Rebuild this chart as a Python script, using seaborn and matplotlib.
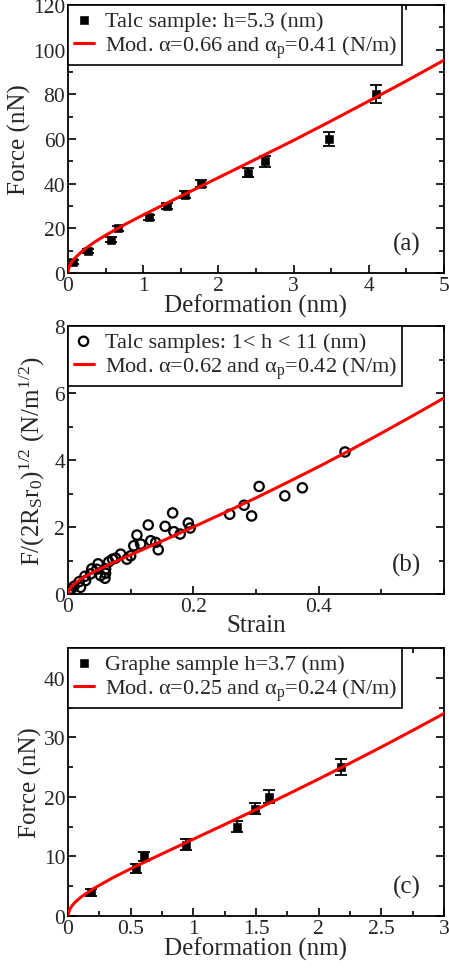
import numpy as np
import pandas as pd
import matplotlib
matplotlib.use("Agg")
import matplotlib.pyplot as plt
import seaborn as sns
from matplotlib.ticker import MultipleLocator

# --- panel (a): talc sample, h=5.3 nm ---
a_defo = [0.07, 0.26, 0.57, 0.67, 1.08, 1.32, 1.56, 1.77, 2.39, 2.62, 3.47, 4.10]
a_force = [5, 10, 15, 20, 25, 30, 35, 40, 45, 50, 60, 80]
a_err = [0.9, 0.9, 1.0, 1.0, 1.1, 1.3, 1.5, 1.5, 2.2, 2.6, 3.2, 4.1]
a_fit_x = [0, 0.005, 0.02, 0.05, 0.1, 0.2, 0.35, 0.5, 0.75, 1.0, 1.5, 2.0, 2.5, 3.0, 3.5, 4.0, 4.5, 5.0]
a_fit_y = [0, 1.5, 3.1, 4.9, 7.0, 10.1, 13.8, 16.9, 21.6, 26.0, 34.4, 42.7, 51.0, 59.4, 68.1, 77.0, 86.0, 95.3]

# --- panel (b): talc samples 1 < h < 11 nm ---
b_strain = [0.442, 0.305, 0.374, 0.346, 0.281, 0.258, 0.293, 0.195, 0.167, 0.128,
            0.155, 0.192, 0.179, 0.169, 0.110, 0.144, 0.132, 0.140, 0.105, 0.116,
            0.100, 0.084, 0.071, 0.065, 0.060, 0.059, 0.048, 0.046, 0.038, 0.036,
            0.027, 0.028, 0.020, 0.018, 0.0095, 0.004, 0.003, 0.052, 0.060, 0.076, 0.094]
b_force = [4.24, 3.21, 3.17, 2.93, 2.65, 2.38, 2.33, 1.97, 2.42, 2.06,
           2.02, 2.12, 1.79, 1.86, 1.76, 1.32, 1.59, 1.54, 1.44, 1.49,
           1.14, 1.19, 1.04, 0.96, 0.75, 0.47, 0.90, 0.74, 0.75, 0.60,
           0.53, 0.40, 0.20, 0.37, 0.23, 0.15, 0.07, 0.55, 0.62, 1.07, 1.04]
b_fit_x = [0, 0.002, 0.005, 0.01, 0.02, 0.035, 0.05, 0.075, 0.1, 0.15, 0.2, 0.25, 0.3, 0.35, 0.4, 0.45, 0.5, 0.55, 0.6]
b_fit_y = [0, 0.13, 0.21, 0.30, 0.44, 0.60, 0.74, 0.96, 1.17, 1.58, 2.0, 2.43, 2.87, 3.33, 3.80, 4.29, 4.80, 5.32, 5.85]

# --- panel (c): graphene sample, h=3.7 nm ---
c_defo = [0.18, 0.545, 0.604, 0.944, 1.348, 1.495, 1.604, 2.18]
c_force = [4.0, 8.0, 10.0, 12.0, 15.0, 18.0, 20.0, 25.0]
c_err = [0.6, 0.7, 0.7, 0.85, 0.95, 0.95, 1.1, 1.35]
c_fit_x = [0, 0.01, 0.03, 0.06, 0.1, 0.2, 0.35, 0.5, 0.75, 1.0, 1.25, 1.5, 1.75, 2.0, 2.25, 2.5, 2.75, 3.0]
c_fit_y = [0, 0.96, 1.67, 2.38, 3.12, 4.56, 6.34, 7.93, 10.44, 12.9, 15.36, 17.86, 20.40, 23.0, 25.66, 28.37, 31.16, 34.0]

sns.set_theme(style="ticks")
plt.rcParams['font.family'] = ['Liberation Serif', 'DejaVu Serif']
plt.rcParams['mathtext.fontset'] = 'custom'
plt.rcParams['mathtext.rm'] = 'Liberation Serif'
plt.rcParams['mathtext.it'] = 'Liberation Serif:italic'
plt.rcParams['axes.linewidth'] = 1.3

fig = plt.figure(figsize=(4.49, 9.70), dpi=100)
left, width, height = 68 / 449, 376 / 449, 268 / 970
ax_a = fig.add_axes([left, 1 - 274 / 970, width, height])
ax_b = fig.add_axes([left, 1 - 595 / 970, width, height])
ax_c = fig.add_axes([left, 1 - 917 / 970, width, height])


def style_axes(ax, xlim, ylim, xmaj, xmin, ymaj, ymin):
    ax.set_xlim(*xlim)
    ax.set_ylim(*ylim)
    ax.xaxis.set_major_locator(MultipleLocator(xmaj))
    ax.xaxis.set_minor_locator(MultipleLocator(xmin))
    ax.yaxis.set_major_locator(MultipleLocator(ymaj))
    ax.yaxis.set_minor_locator(MultipleLocator(ymin))
    ax.tick_params(which="both", direction="in", top=True, right=True,
                   labelsize=15.5, width=1.2, color="black", pad=2)
    ax.tick_params(which="major", length=6)
    ax.tick_params(which="minor", length=3.5)
    for sp in ax.spines.values():
        sp.set_visible(True)
        sp.set_color("black")
        sp.set_linewidth(1.3)


def add_legend(ax):
    leg = ax.legend(loc="upper left", bbox_to_anchor=(0, 1), borderaxespad=0,
                    fontsize=16, frameon=True, fancybox=False, edgecolor="black",
                    framealpha=1, handlelength=0.9, handletextpad=0.5,
                    borderpad=0.25, labelspacing=0.1)
    leg.get_frame().set_linewidth(1.2)


# panel (a)
df_a = pd.DataFrame({"x": a_defo, "y": a_force})
ax_a.errorbar(a_defo, a_force, yerr=a_err, fmt="none", ecolor="black",
              elinewidth=1.3, capsize=4, capthick=1.3)
sns.scatterplot(data=df_a, x="x", y="y", marker="s", s=30, color="black",
                edgecolor="black", ax=ax_a, label="Talc sample: h=5.3 (nm)", zorder=3)
sns.lineplot(x=a_fit_x, y=a_fit_y, color="red", lw=2.2, ax=ax_a, sort=False,
             label="Mod. α=0.66 and α$_{\\rm p}$=0.41 (N/m)", zorder=4)
style_axes(ax_a, (0, 5), (0, 120), 1, 0.5, 20, 10)
ax_a.set_xticks([0, 1, 2, 3, 4, 5])
ax_a.set_xticklabels(["0", "1", "2", "3", "4", "5"])
ax_a.set_xlabel("Deformation (nm)", fontsize=18, labelpad=-1)
ax_a.set_ylabel("Force (nN)", fontsize=18, labelpad=1)
ax_a.text(0.90, 0.11, "(a)", transform=ax_a.transAxes, fontsize=18, ha="center", va="center")
add_legend(ax_a)

# panel (b)
df_b = pd.DataFrame({"x": b_strain, "y": b_force})
sns.scatterplot(data=df_b, x="x", y="y", marker="o", s=45, facecolor="none",
                edgecolor="black", linewidth=1.6, ax=ax_b,
                label="Talc samples: 1< h < 11 (nm)", zorder=3)
sns.lineplot(x=b_fit_x, y=b_fit_y, color="red", lw=2.2, ax=ax_b, sort=False,
             label="Mod. α=0.62 and α$_{\\rm p}$=0.42 (N/m)", zorder=4)
style_axes(ax_b, (0, 0.6), (0, 8), 0.2, 0.1, 2, 1)
ax_b.set_xticks([0, 0.2, 0.4])
ax_b.set_xticklabels(["0", "0.2", "0.4"])
ax_b.xaxis.set_minor_locator(MultipleLocator(0.1))
ax_b.set_xlabel("Strain", fontsize=18, labelpad=-1)
ax_b.set_ylabel("F/(2R$_{\\rm S}$r$_{\\rm 0}$)$^{\\rm 1/2}$ (N/m$^{\\rm 1/2}$)", fontsize=18, labelpad=5)
ax_b.text(0.90, 0.11, "(b)", transform=ax_b.transAxes, fontsize=18, ha="center", va="center")
add_legend(ax_b)

# panel (c)
df_c = pd.DataFrame({"x": c_defo, "y": c_force})
ax_c.errorbar(c_defo, c_force, yerr=c_err, fmt="none", ecolor="black",
              elinewidth=1.3, capsize=4, capthick=1.3)
sns.scatterplot(data=df_c, x="x", y="y", marker="s", s=30, color="black",
                edgecolor="black", ax=ax_c, label="Graphe sample h=3.7 (nm)", zorder=3)
sns.lineplot(x=c_fit_x, y=c_fit_y, color="red", lw=2.2, ax=ax_c, sort=False,
             label="Mod. α=0.25 and α$_{\\rm p}$=0.24 (N/m)", zorder=4)
style_axes(ax_c, (0, 3), (0, 45), 0.5, 0.25, 10, 5)
ax_c.set_xticks([0, 0.5, 1, 1.5, 2, 2.5, 3])
ax_c.set_xticklabels(["0", "0.5", "1", "1.5", "2", "2.5", "3"])
ax_c.set_xlabel("Deformation (nm)", fontsize=18, labelpad=-1)
ax_c.set_ylabel("Force (nN)", fontsize=18, labelpad=1)
ax_c.text(0.90, 0.11, "(c)", transform=ax_c.transAxes, fontsize=18, ha="center", va="center")
add_legend(ax_c)

fig.savefig("out.png", dpi=100)
